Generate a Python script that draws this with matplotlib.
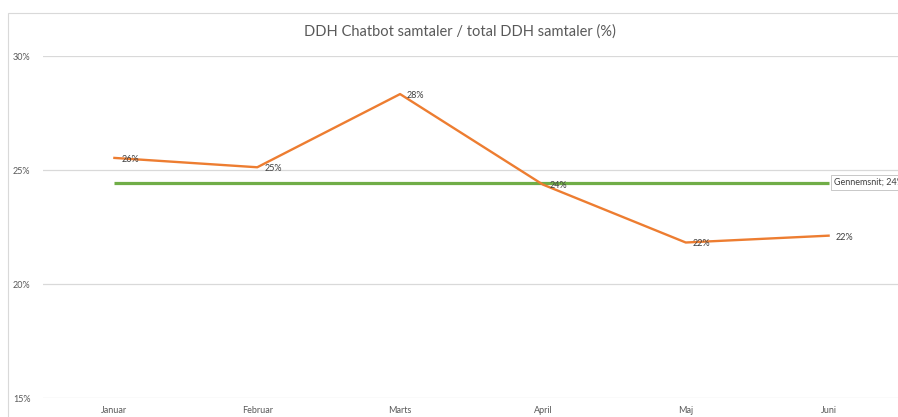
import matplotlib
matplotlib.use("Agg")
import matplotlib.pyplot as plt
from matplotlib.patches import Rectangle

months = ["Januar", "Februar", "Marts", "April", "Maj", "Juni"]
share = [25.53, 25.12, 28.33, 24.36, 21.82, 22.12]
share_labels = ["26%", "25%", "28%", "24%", "22%", "22%"]
average = [24.45] * 6
average_label = "Gennemsnit; 24%"
yticks = [15, 20, 25, 30]
ytick_labels = ["15%", "20%", "25%", "30%"]

plt.rcParams['font.family'] = ['Lato', 'DejaVu Sans']

W, H = 898, 417
fig = plt.figure(figsize=(W / 100, H / 100), dpi=100)
fig.patches.append(Rectangle((8 / W, -0.1), 1.2, 1 - 13 / H + 0.1, transform=fig.transFigure,
                             facecolor='none', edgecolor='#d9d9d9', lw=0.8, zorder=-5))

ax = fig.add_axes([43 / W, 1 - 398 / H, (900 - 43) / W, (398 - 56) / H])
ax.set_facecolor('none')
x = list(range(len(months)))
ax.plot(x, average, color='#70AD47', lw=2.3, zorder=3, solid_capstyle='butt')
ax.plot(x, share, color='#ED7D31', lw=1.7, zorder=4)

ax.set_xlim(-0.5, 5.5)
ax.set_ylim(15, 30)
ax.set_yticks(yticks)
ax.set_yticklabels(ytick_labels)
ax.set_xticks(x)
ax.set_xticklabels(months)
ax.grid(axis='y', color='#d9d9d9', lw=0.9)
ax.set_axisbelow(True)
for s in ax.spines.values():
    s.set_visible(False)
ax.tick_params(axis='both', length=0, labelsize=6.5, labelcolor='#595959')
ax.tick_params(axis='y', pad=9)
ax.tick_params(axis='x', pad=6)

for xi, v, lab in zip(x, share, share_labels):
    ax.annotate(lab, (xi, v), xytext=(5, -1), textcoords='offset points',
                ha='left', va='center', fontsize=6.5, color='#404040', zorder=5)

ax.annotate(average_label, (x[-1], average[-1]), xytext=(4, 0), textcoords='offset points',
            ha='left', va='center', fontsize=6.5, color='#404040', zorder=6,
            bbox=dict(boxstyle='square,pad=0.35', facecolor='white', edgecolor='#bfbfbf', lw=0.6),
            annotation_clip=False)

fig.text(460 / W, 1 - 32 / H, "DDH Chatbot samtaler / total DDH samtaler (%)",
         ha='center', va='center', fontsize=10.5, color='#595959')

fig.savefig("out.png", dpi=100)
